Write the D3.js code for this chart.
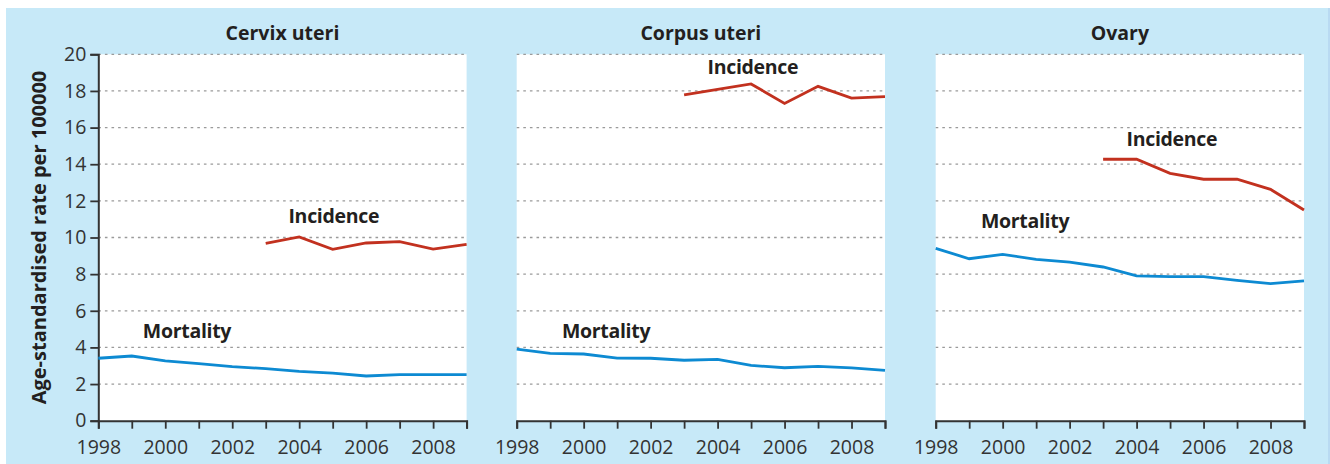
<!DOCTYPE html>
<html><head><meta charset="utf-8">
<script src="https://cdn.jsdelivr.net/npm/d3@7"></script>
<style>
html,body{margin:0;padding:0;background:#fff;}
svg{display:block;font-family:"Open Sans",sans-serif;}
</style></head>
<body><svg id="c" width="1330" height="464"></svg>
<script>
const panels = ["Cervix uteri", "Corpus uteri", "Ovary"];
const mortalityYears = [1998,1999,2000,2001,2002,2003,2004,2005,2006,2007,2008,2009];
const incidenceYears = [2003,2004,2005,2006,2007,2008,2009];
const cervixMortality = [3.41,3.53,3.26,3.11,2.95,2.84,2.69,2.60,2.44,2.51,2.51,2.51];
const cervixIncidence = [9.68,10.03,9.35,9.70,9.77,9.37,9.63];
const corpusMortality = [3.91,3.68,3.64,3.42,3.41,3.30,3.35,3.02,2.89,2.97,2.88,2.75];
const corpusIncidence = [17.78,18.09,18.38,17.32,18.25,17.61,17.69];
const ovaryMortality = [9.41,8.84,9.08,8.81,8.66,8.39,7.90,7.86,7.86,7.66,7.48,7.63];
const ovaryIncidence = [14.27,14.27,13.50,13.18,13.18,12.63,11.50];
const yTicks = [0,2,4,6,8,10,12,14,16,18,20];
const xTickLabels = [1998,2000,2002,2004,2006,2008];
const yTitle = "Age-standardised rate per 100000";
const seriesNames = ["Incidence","Mortality"];
// label anchors in data units (year, value) per panel
const incidenceLabelAt = [[2003.68,10.81],[2003.70,18.92],[2003.70,15.0]];
const mortalityLabelAt = [[1999.33,4.50],[1999.35,4.51],[1999.35,10.5]];

const mortality = [cervixMortality, corpusMortality, ovaryMortality];
const incidence = [cervixIncidence, corpusIncidence, ovaryIncidence];

const svg = d3.select("#c");
svg.append("rect").attr("x",6).attr("y",8).attr("width",1324).attr("height",456).attr("fill","#c7e9f8");
svg.append("rect").attr("x",1328).attr("y",8).attr("width",2).attr("height",456).attr("fill","#b9daf2");

const plotLefts = [98.3, 516.7, 935.7];
const plotW = 368.3;
const plotTop = 54.3, plotBottom = 420.7;
const y = d3.scaleLinear().domain([0,20]).range([plotBottom, plotTop]);
const RED = "#c2311f", BLUE = "#0d8ad2";

panels.forEach((name, i) => {
  const x0 = plotLefts[i];
  const x = d3.scaleLinear().domain([1998,2009]).range([x0, x0+plotW]);
  const g = svg.append("g");
  g.append("rect").attr("x",x0).attr("y",plotTop).attr("width",plotW).attr("height",plotBottom-plotTop).attr("fill","#fff");
  g.selectAll("line.grid").data(yTicks.filter(v=>v>0)).join("line")
    .attr("x1",x0).attr("x2",x0+plotW).attr("y1",d=>y(d)).attr("y2",d=>y(d))
    .attr("stroke","#9a9a9a").attr("stroke-width",1.3).attr("stroke-dasharray","2.6,4");
  g.append("text").attr("x",x0+plotW/2).attr("y",40).attr("text-anchor","middle")
    .attr("font-size",19.5).attr("font-weight",700).attr("fill","#231f20").text(name);
  const xa = g.append("g").attr("transform",`translate(0,${plotBottom})`)
    .call(d3.axisBottom(x).tickValues(mortalityYears).tickSize(8).tickFormat(d=>xTickLabels.includes(d)?d:""));
  xa.select(".domain").attr("stroke","#333").attr("stroke-width",2);
  xa.selectAll(".tick line").attr("stroke","#333").attr("stroke-width",1.8);
  xa.selectAll(".tick text").attr("font-size",19.5).attr("fill","#333").attr("y",33).attr("dy",null)
    .attr("font-family","'Open Sans',sans-serif");
  if (i === 0) {
    const ya = g.append("g").attr("transform",`translate(${x0},0)`)
      .call(d3.axisLeft(y).tickValues(yTicks).tickSize(8).tickFormat(d3.format("d")));
    ya.select(".domain").attr("stroke","#333").attr("stroke-width",2);
    ya.selectAll(".tick line").attr("stroke","#333").attr("stroke-width",1.8);
    ya.selectAll(".tick text").attr("font-size",19.5).attr("fill","#333").attr("x",-12)
      .attr("font-family","'Open Sans',sans-serif");
  }
  const line = d3.line().x(d=>x(d[0])).y(d=>y(d[1]));
  g.append("path").datum(mortalityYears.map((yr,j)=>[yr, mortality[i][j]]))
    .attr("d",line).attr("fill","none").attr("stroke",BLUE).attr("stroke-width",2.8);
  g.append("path").datum(incidenceYears.map((yr,j)=>[yr, incidence[i][j]]))
    .attr("d",line).attr("fill","none").attr("stroke",RED).attr("stroke-width",2.8);
  g.append("text").attr("x",x(incidenceLabelAt[i][0])).attr("y",y(incidenceLabelAt[i][1]))
    .attr("font-size",19.5).attr("font-weight",700).attr("fill","#231f20").attr("letter-spacing","-0.3px").text(seriesNames[0]);
  g.append("text").attr("x",x(mortalityLabelAt[i][0])).attr("y",y(mortalityLabelAt[i][1]))
    .attr("font-size",19.5).attr("font-weight",700).attr("fill","#231f20").attr("letter-spacing","-0.3px").text(seriesNames[1]);
});

svg.append("text").attr("transform",`translate(46,${(plotTop+plotBottom)/2}) rotate(-90)`)
  .attr("text-anchor","middle").attr("font-size",20).attr("font-weight",700).attr("fill","#231f20")
  .text(yTitle);
</script></body></html>
